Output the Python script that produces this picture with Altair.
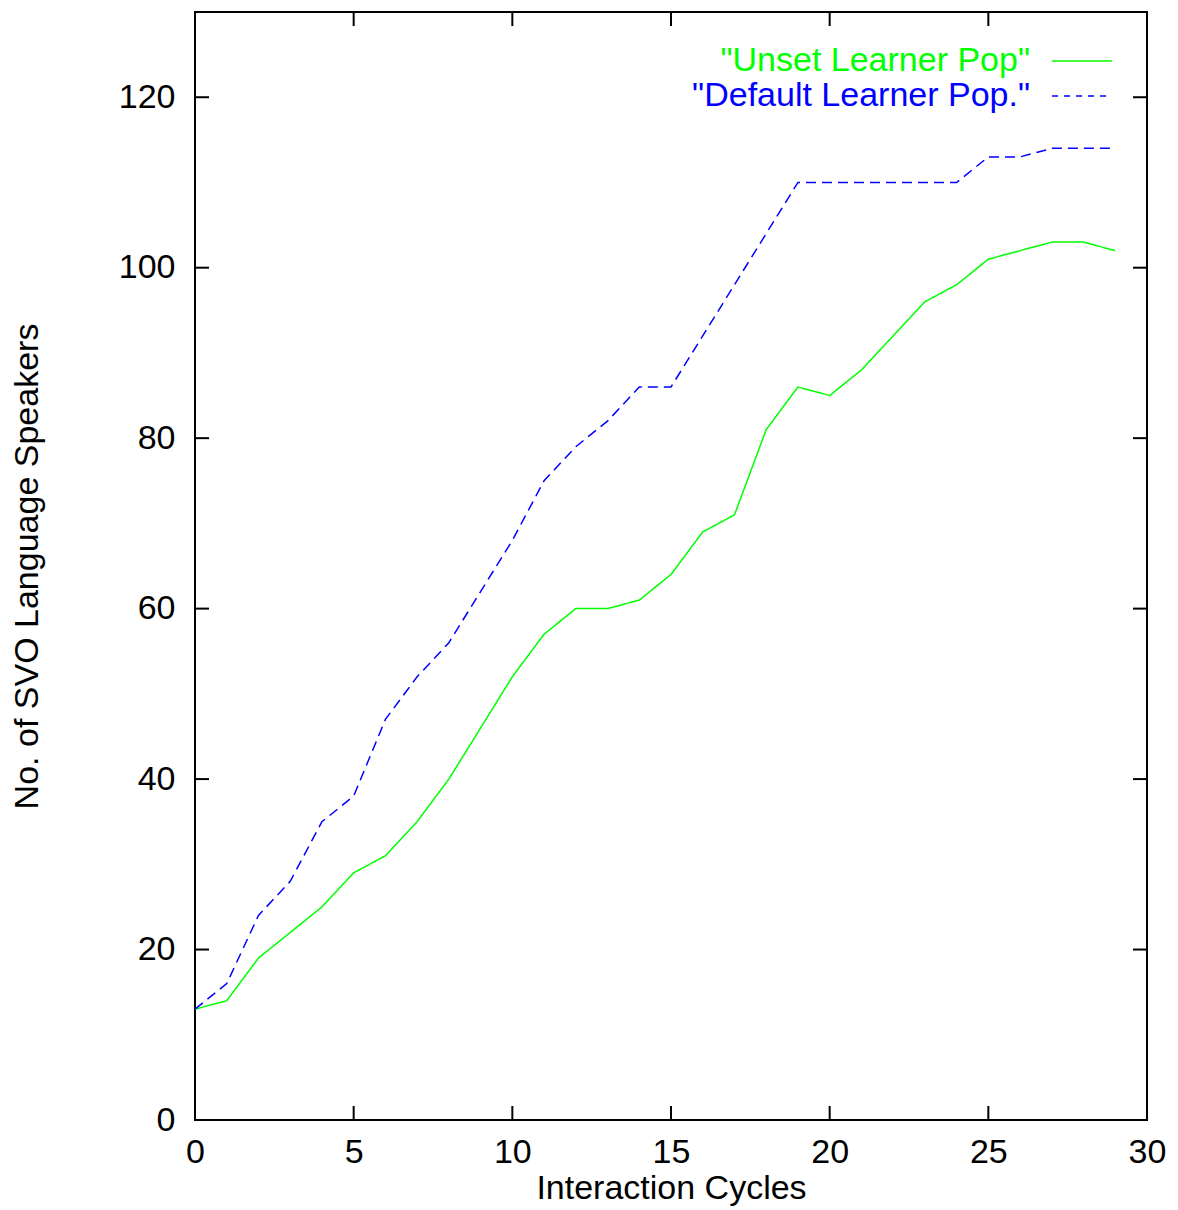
import altair as alt
import pandas as pd

# Interaction cycle index
cycles = list(range(30))

# Number of SVO language speakers per cycle
unset_learner = [13, 14, 19, 22, 25, 29, 31, 35, 40, 46, 52, 57, 60, 60, 61,
                 64, 69, 71, 81, 86, 85, 88, 92, 96, 98, 101, 102, 103, 103, 102]
default_learner = [13, 16, 24, 28, 35, 38, 47, 52, 56, 62, 68, 75, 79, 82, 86,
                   86, 92, 98, 104, 110, 110, 110, 110, 110, 110, 113, 113, 114, 114, 114]

series_names = ['"Unset Learner Pop"', '"Default Learner Pop."']
series_colors = ["#00ff00", "#0000ff"]

x_ticks = [0, 5, 10, 15, 20, 25, 30]
y_ticks = [0, 20, 40, 60, 80, 100, 120]

W, H = 952, 1108
TICK = 14
FONT = "Liberation Sans"
FS = 34

df = pd.concat([
    pd.DataFrame({"cycle": cycles, "speakers": unset_learner, "series": series_names[0]}),
    pd.DataFrame({"cycle": cycles, "speakers": default_learner, "series": series_names[1]}),
])

xscale = alt.Scale(domain=[0, 30], nice=False, zero=False)
yscale = alt.Scale(domain=[0, 130], nice=False, zero=False)
color_scale = alt.Scale(domain=series_names, range=series_colors)
dash_scale = alt.Scale(domain=series_names, range=[[1, 0], [10, 6]])

lines = alt.Chart(df).mark_line(strokeWidth=1.5).encode(
    x=alt.X("cycle:Q", scale=xscale,
            axis=alt.Axis(values=x_ticks, ticks=False, domain=False, grid=False,
                          labelFlush=False,
                          labelFontSize=FS, labelFont=FONT, labelColor="black",
                          labelPadding=15, title="Interaction Cycles",
                          titleFontSize=FS, titleFont=FONT, titleFontWeight="normal",
                          titleColor="black", titlePadding=2)),
    y=alt.Y("speakers:Q", scale=yscale,
            axis=alt.Axis(values=y_ticks, ticks=False, domain=False, grid=False,
                          labelFlush=False,
                          labelFontSize=FS, labelFont=FONT, labelColor="black",
                          labelPadding=20, title="No. of SVO Language Speakers",
                          titleFontSize=FS, titleFont=FONT, titleFontWeight="normal",
                          titleColor="black", titlePadding=74)),
    color=alt.Color("series:N", scale=color_scale, legend=None),
    strokeDash=alt.StrokeDash("series:N", scale=dash_scale, legend=None),
)

# Inward-pointing tick marks on all four sides
ytick_df = pd.DataFrame({"v": y_ticks})
xtick_df = pd.DataFrame({"v": x_ticks})
tick_style = dict(color="black", strokeWidth=2)

ytick_left = alt.Chart(ytick_df).mark_rule(**tick_style).encode(
    y=alt.Y("v:Q", scale=yscale), x=alt.value(0), x2=alt.value(TICK))
ytick_right = alt.Chart(ytick_df).mark_rule(**tick_style).encode(
    y=alt.Y("v:Q", scale=yscale), x=alt.value(W - TICK), x2=alt.value(W))
xtick_bottom = alt.Chart(xtick_df).mark_rule(**tick_style).encode(
    x=alt.X("v:Q", scale=xscale), y=alt.value(H - TICK), y2=alt.value(H))
xtick_top = alt.Chart(xtick_df).mark_rule(**tick_style).encode(
    x=alt.X("v:Q", scale=xscale), y=alt.value(0), y2=alt.value(TICK))

# Key in the top-right corner: label text followed by a line sample
key_rows_y = [49, 84]
key_dashes = [[1, 0], [6, 6]]
key_layers = []
for name, color, ky, dash in zip(series_names, series_colors, key_rows_y, key_dashes):
    kdf = pd.DataFrame({"series": [name]})
    key_layers.append(
        alt.Chart(kdf).mark_text(
            align="right", baseline="middle", fontSize=FS, font=FONT, color=color
        ).encode(x=alt.value(835), y=alt.value(ky), text="series:N")
    )
    key_layers.append(
        alt.Chart(kdf).mark_rule(strokeWidth=1.5, color=color, strokeDash=dash).encode(
            x=alt.value(857), x2=alt.value(917), y=alt.value(ky)
        )
    )

chart = alt.layer(
    lines, ytick_left, ytick_right, xtick_bottom, xtick_top, *key_layers
).properties(
    width=W, height=H,
    autosize=alt.AutoSizeParams(type="none"),
    padding={"left": 195, "top": 12, "right": 31, "bottom": 90},
    background="white",
).configure_view(stroke="black", strokeWidth=2)

chart.save("out.html", embed_options={"renderer": "svg", "actions": False})
